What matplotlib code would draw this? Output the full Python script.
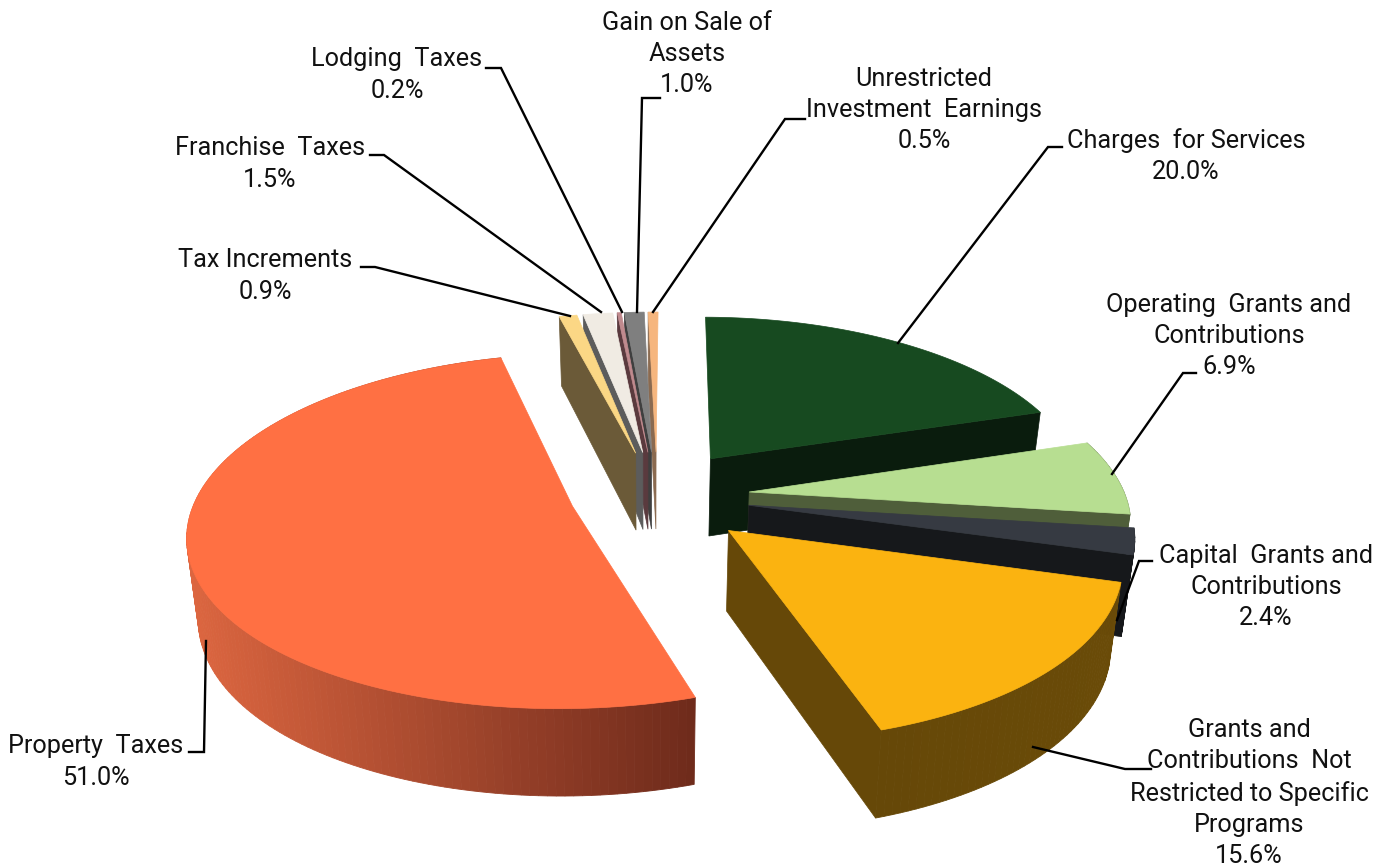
import numpy as np
import matplotlib
matplotlib.use('Agg')
import matplotlib.pyplot as plt
from matplotlib.colors import to_rgb

plt.rcParams['font.family'] = ['Roboto', 'DejaVu Sans']

# revenue by source, percent of total, clockwise from twelve o'clock
categorias = ['Charges for Services', 'Operating Grants and Contributions',
              'Capital Grants and Contributions',
              'Grants and Contributions Not Restricted to Specific Programs',
              'Property Taxes', 'Tax Increments', 'Franchise Taxes',
              'Lodging Taxes', 'Gain on Sale of Assets',
              'Unrestricted Investment Earnings']
valores = [20.0, 6.9, 2.4, 15.6, 51.0, 0.9, 1.5, 0.2, 1.0, 0.5]

cores_topo = ['#174A20', '#B7DE91', '#363A42', '#FBB310', '#FF7043',
              '#FBD785', '#F0EBE3', '#C08A8E', '#7F7F7F', '#F6B67E']
cores_lado_esq = ['#0A1C0D', '#4F5E3A', '#16181B', '#664808', '#DC6640',
                  '#6B5A38', '#5C5C5C', '#5A3A3E', '#3F3F3F', '#8A6A50']
cores_lado_dir = ['#0A1C0D', '#4F5E3A', '#16181B', '#6A4B08', '#6E2A1B',
                  '#6B5A38', '#5C5C5C', '#5A3A3E', '#3F3F3F', '#8A6A50']
explode = [105, 100, 100, 106, 80, 100, 100, 100, 100, 100]
# as fatias pequenas ficam um pouco mais para a direita
desloc_x = [0, 0, 0, 0, 0, 7, 7, 7, 7, 7]

# texto dos rotulos: (x, y do centro do bloco, texto)
rotulos = [
    (687, 54, 'Gain on Sale of\nAssets\n1.0%'),
    (397, 75, 'Lodging  Taxes\n0.2%'),
    (270, 164, 'Franchise  Taxes\n1.5%'),
    (265, 276, 'Tax Increments\n0.9%'),
    (924, 110, 'Unrestricted\nInvestment  Earnings\n0.5%'),
    (1186, 156, 'Charges  for Services\n20.0%'),
    (1229, 336, 'Operating  Grants and\nContributions\n6.9%'),
    (1266, 587, 'Capital  Grants and\nContributions\n2.4%'),
    (1249, 793, 'Grants and\nContributions  Not\nRestricted to Specific\nPrograms\n15.6%'),
    (96, 762, 'Property  Taxes\n51.0%'),
]
linhas_guia = [
    [(660, 98), (642, 98), (637, 312)],
    [(486, 68), (501, 68), (622, 312)],
    [(370, 155), (384, 155), (601, 312)],
    [(361, 267), (375, 267), (570, 316)],
    [(805, 119), (785, 119), (653, 312)],
    [(1062, 147), (1048, 147), (898, 343)],
    [(1196, 373), (1183, 373), (1112, 474)],
    [(1152, 561), (1139, 561), (1117, 620)],
    [(1151, 769), (1125, 769), (1033, 747)],
    [(189, 752), (204, 752), (206, 641)],
]

CX, CY, R = 650, 496, 376
ALTURA = 79
ANGULO_INICIAL = 0.5


def projeta(X, Y, base=False):
    # perspectiva simples: o fundo encolhe, a frente cresce
    d = Y / R
    x = CX + X / (1 + 0.15 * d)
    y = CY - Y * 0.455 / (1 + 0.14 * d)
    if base:
        x = CX + (x - CX) * 0.975
        y = y + ALTURA * (1 - 0.10 * d)
    return x, y


def mistura(a, b, t):
    a, b = np.array(to_rgb(a)), np.array(to_rgb(b))
    return tuple(a + (b - a) * t)


fig = plt.figure(figsize=(13.94, 8.68), dpi=100)
ax = fig.add_axes([0, 0, 1, 1])
ax.set_xlim(0, 1394)
ax.set_ylim(868, 0)
ax.axis('off')

acum = np.concatenate([[0], np.cumsum(valores)])
# ordem de desenho: lado direito de tras p/ frente, depois as fatias pequenas
# da direita p/ esquerda
ordem = [0, 1, 2, 3, 4, 9, 8, 7, 6, 5]

for z, i in enumerate(ordem):
    a0 = np.radians(acum[i] * 3.6 + ANGULO_INICIAL)
    a1 = np.radians(acum[i + 1] * 3.6 + ANGULO_INICIAL)
    meio = (a0 + a1) / 2
    ax0 = explode[i] * np.sin(meio) + desloc_x[i]
    ay0 = explode[i] * np.cos(meio)
    n = max(int((a1 - a0) / 0.02), 2)
    ang = np.linspace(a0, a1, n)
    X = ax0 + R * np.sin(ang)
    Y = ay0 + R * np.cos(ang)

    x_t, y_t = projeta(X, Y)
    x_b, y_b = projeta(X, Y, base=True)
    apx_t, apy_t = projeta(ax0, ay0)
    apx_b, apy_b = projeta(ax0, ay0, base=True)

    # parede externa em gomos, para o degrade horizontal
    # (na primeira fatia e nas pequenas ela fica escondida atras do topo)
    if 0 < i < 5:
        xmin, xmax = x_t.min(), x_t.max()
        for j in range(n - 1):
            t = ((x_t[j] + x_t[j + 1]) / 2 - xmin) / max(xmax - xmin, 1)
            c = mistura(cores_lado_esq[i], cores_lado_dir[i], t)
            ax.fill([x_t[j], x_t[j + 1], x_b[j + 1], x_b[j]],
                    [y_t[j], y_t[j + 1], y_b[j + 1], y_b[j]],
                    color=c, lw=0.6, zorder=z * 3 + 1)

    # parede do corte: so a que aparece (a fatia grande nao mostra nenhuma)
    if i != 4:
        k = -1 if i < 4 else 0
        ax.fill([apx_t, x_t[k], x_b[k], apx_b], [apy_t, y_t[k], y_b[k], apy_b],
                color=cores_lado_esq[i], lw=0.5, zorder=z * 3 + 2)

    # topo
    ax.fill(np.r_[apx_t, x_t], np.r_[apy_t, y_t], color=cores_topo[i],
            lw=0.5, zorder=z * 3 + 3)

for linha in linhas_guia:
    xs, ys = zip(*linha)
    ax.plot(xs, ys, color='black', lw=1.7, zorder=50, solid_joinstyle='miter')

for x, y, txt in rotulos:
    ax.text(x, y, txt, ha='center', va='center', fontsize=18.2,
            color='#111111', linespacing=1.38, zorder=60)

fig.savefig('out.png', dpi=100, facecolor='white')
